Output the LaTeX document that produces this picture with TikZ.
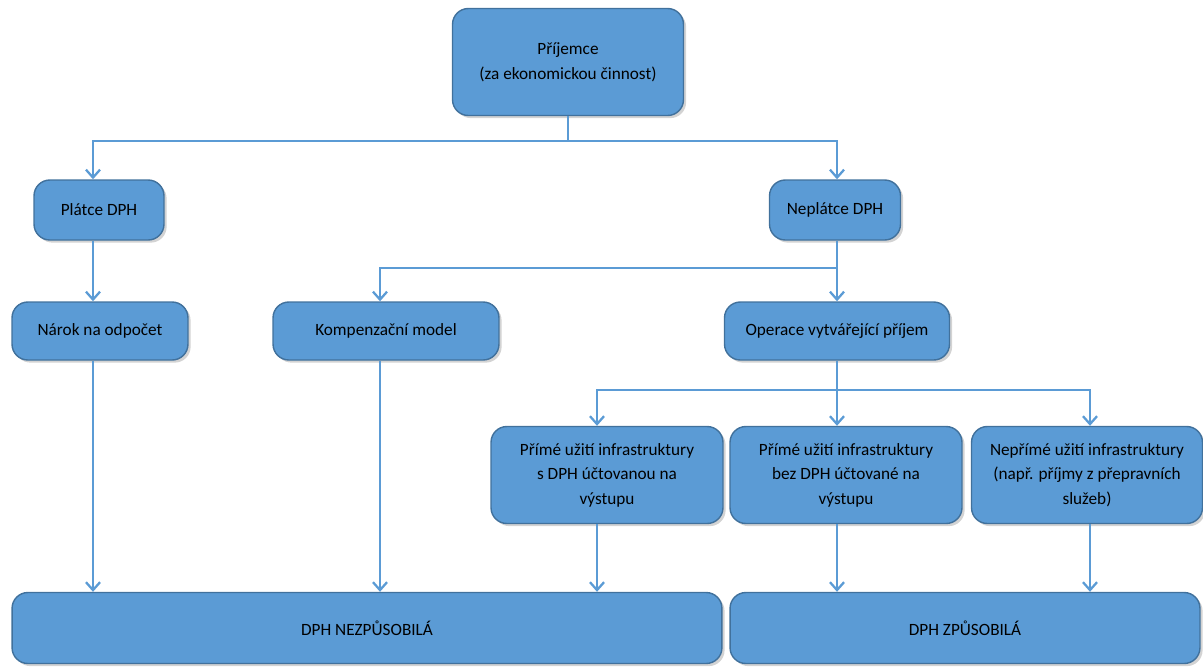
\documentclass[tikz,border=0pt]{standalone}
\usepackage{fontspec}
\setmainfont{Carlito}
\usetikzlibrary{arrows.meta,shadows}
\definecolor{boxfill}{HTML}{5B9BD5}
\definecolor{boxline}{HTML}{41719C}
\definecolor{flowline}{HTML}{5B9BD5}
\tikzset{
  box/.style={draw=boxline,line width=0.8pt,fill=boxfill,rounded corners=9pt,
    align=center,inner sep=0pt,text=black,
    font=\fontsize{9.8}{14}\selectfont,
    drop shadow={opacity=0.35,shadow xshift=1.5pt,shadow yshift=-1.5pt}},
  flow/.style={draw=flowline,line width=1.3pt},
  arr/.style={flow,-{Straight Barb[length=4.5pt,width=8pt,line width=1.3pt]}}
}
\begin{document}
\begin{tikzpicture}[x=0.02cm,y=-0.02cm]
    \useasboundingbox (0,0) rectangle (1203,670);
    % boxes
    \node[box,minimum width=4.62cm,minimum height=2.14cm] (prijemce) at (568,62)
      {Příjemce\\(za ekonomickou činnost)};
    \node[box,minimum width=2.6cm,minimum height=1.2cm] (platce) at (99,210) {Plátce DPH};
    \node[box,minimum width=2.62cm,minimum height=1.2cm] (neplatce) at (835,210) {Neplátce DPH};
    \node[box,minimum width=3.52cm,minimum height=1.16cm] (narok) at (100,331) {Nárok na odpočet};
    \node[box,minimum width=4.52cm,minimum height=1.16cm] (kompenz) at (386,331) {Kompenzační model};
    \node[box,minimum width=4.5cm,minimum height=1.16cm] (operace) at (837,331) {Operace vytvářející příjem};
    \node[box,minimum width=4.64cm,minimum height=1.94cm] (primes) at (607,475)
      {Přímé užití infrastruktury\\s DPH účtovanou na\\výstupu};
    \node[box,minimum width=4.64cm,minimum height=1.94cm] (primebez) at (846,475)
      {Přímé užití infrastruktury\\bez DPH účtované na\\výstupu};
    \node[box,minimum width=4.62cm,minimum height=1.94cm] (neprime) at (1087,475)
      {Nepřímé užití infrastruktury\\(např. příjmy z přepravních\\služeb)};
    \node[box,minimum width=14.2cm,minimum height=1.42cm] (nezpus) at (367,628) {DPH NEZPŮSOBILÁ};
    \node[box,minimum width=9.4cm,minimum height=1.42cm] (zpus) at (965,628) {DPH ZPŮSOBILÁ};
    % columns and buses
    \coordinate (c1) at (93,0);
    \coordinate (c2) at (380,0);
    \coordinate (c3) at (837,0);
    \coordinate (c4) at (597,0);
    \coordinate (c5) at (1090,0);
    \coordinate (bus1) at (0,141);
    \coordinate (bus2) at (0,268);
    \coordinate (bus3) at (0,390);
    % connectors
    \draw[arr] (prijemce.south) |- (c1 |- bus1) -- (c1 |- platce.north);
    \draw[arr] (prijemce.south) |- (c3 |- bus1) -- (c3 |- neplatce.north);
    \draw[arr] (c1 |- platce.south) -- (c1 |- narok.north);
    \draw[arr] (c3 |- neplatce.south) -- (c3 |- operace.north);
    \draw[arr] (c3 |- bus2) -| (c2 |- kompenz.north);
    \draw[arr] (c3 |- operace.south) |- (c4 |- bus3) -- (c4 |- primes.north);
    \draw[arr] (c3 |- operace.south) -- (c3 |- primebez.north);
    \draw[arr] (c3 |- bus3) -| (c5 |- neprime.north);
    \draw[arr] (c1 |- narok.south) -- (c1 |- nezpus.north);
    \draw[arr] (c2 |- kompenz.south) -- (c2 |- nezpus.north);
    \draw[arr] (c4 |- primes.south) -- (c4 |- nezpus.north);
    \draw[arr] (c3 |- primebez.south) -- (c3 |- zpus.north);
    \draw[arr] (c5 |- neprime.south) -- (c5 |- zpus.north);
\end{tikzpicture}
\end{document}
